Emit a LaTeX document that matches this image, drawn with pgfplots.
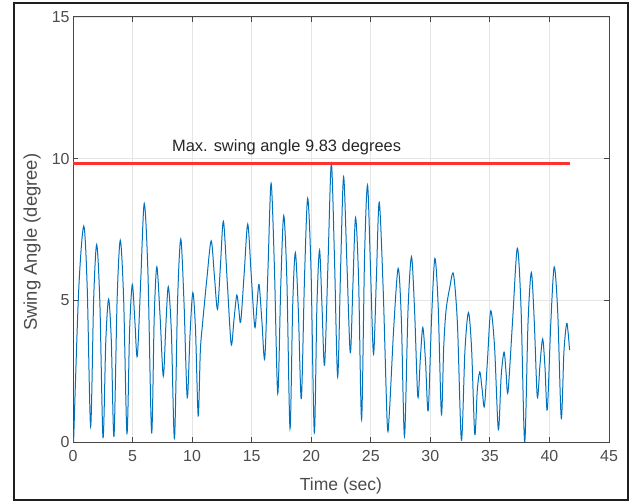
\documentclass[border=0pt]{standalone}
\usepackage{pgfplots}
\pgfplotsset{compat=1.18}
\usepackage{fontspec}
\setmainfont{Liberation Sans}
\definecolor{mblue}{rgb}{0,0.447,0.741}
\definecolor{mred}{RGB}{255,50,50}
\definecolor{axgray}{rgb}{0.15,0.15,0.15}
\definecolor{tickgray}{rgb}{0.3,0.3,0.3}
\definecolor{gridgray}{rgb}{0.9,0.9,0.9}
\begin{document}
\begin{tikzpicture}
\path[use as bounding box] (0bp,0bp) rectangle (637bp,504bp);
\draw[line width=2.4bp, color=black!88] (14bp,4bp) rectangle (628bp,501bp);
\begin{axis}[
  at={(73bp,62bp)}, anchor=south west,
  scale only axis, width=536bp, height=425bp,
  xmin=0, xmax=45, ymin=0, ymax=15,
  xtick={0,5,...,45}, ytick={0,5,10,15},
  grid=major, major grid style={color=gridgray, line width=0.8bp},
  axis line style={color=axgray!85, line width=1bp},
  tick style={color=axgray!85, line width=1bp},
  tick align=inside, major tick length=5bp,
  ticklabel style={font=\fontsize{16}{16}\selectfont, color=tickgray},
  xticklabel style={yshift=-5bp},
  /pgf/number format/assume math mode=true,
  xlabel={Time (sec)}, ylabel={Swing Angle (degree)},
  xlabel style={at={(axis description cs:0.5,-0.1035)}, anchor=center, font=\fontsize{17.6}{18}\selectfont, color=tickgray},
  ylabel style={at={(axis description cs:-0.0765,0.47)}, anchor=center, font=\fontsize{18.5}{19}\selectfont, color=tickgray},
  clip=true,
]
\addplot[color=mblue, line width=1bp, smooth] coordinates {
(0.05,0) (0.475,5.33) (0.90,7.62) (1.19,5.50) (1.48,0.55) (1.735,5.04) (1.99,6.97) (2.255,4.92) (2.52,0.15) (2.755,3.57) (2.99,5.04) (3.215,3.59) (3.44,0.20) (3.705,5.04) (3.97,7.12) (4.25,5.07) (4.53,0.30) (4.755,3.98) (4.98,5.56) (5.19,4.30) (5.40,3.03) (5.69,5.73) (5.98,8.42) (6.29,5.99) (6.60,0.32) (6.82,4.42) (7.04,6.18) (7.31,4.44) (7.58,2.32) (7.79,4.06) (8.00,5.48) (8.26,3.87) (8.52,0.12) (8.785,5.05) (9.05,7.16) (9.32,4.92) (9.59,1.57) (9.825,3.79) (10.06,5.27) (10.285,3.97) (10.51,0.92) (10.69,3.21) (10.87,4.15) (11.235,5.75) (11.60,7.10) (11.865,5.90) (12.13,4.69) (12.38,6.24) (12.63,7.79) (12.955,5.62) (13.28,3.45) (13.515,4.32) (13.75,5.18) (13.915,4.71) (14.08,4.24) (14.375,5.97) (14.67,7.69) (14.965,5.88) (15.26,4.06) (15.44,4.81) (15.62,5.56) (15.86,4.26) (16.10,2.95) (16.365,6.04) (16.63,9.13) (16.91,6.16) (17.19,1.71) (17.44,5.48) (17.69,7.99) (17.955,5.73) (18.22,0.47) (18.445,4.82) (18.67,6.68) (18.92,4.62) (19.17,1.53) (19.435,5.77) (19.70,8.60) (19.98,6.12) (20.26,0.32) (20.48,4.84) (20.70,6.77) (20.91,4.74) (21.12,2.71) (21.405,6.27) (21.69,9.83) (21.955,6.44) (22.22,2.30) (22.47,6.18) (22.72,9.36) (23.0,6.26) (23.28,3.15) (23.50,5.54) (23.72,7.92) (23.975,5.78) (24.23,0.79) (24.48,6.59) (24.73,9.07) (24.98,6.09) (25.23,3.10) (25.47,5.78) (25.71,8.46) (26.045,5.34) (26.38,0.67) (26.55,0.95) (26.93,4.06) (27.30,6.13) (27.565,4.35) (27.83,0.20) (28.125,4.64) (28.42,6.54) (28.685,4.56) (28.95,1.59) (29.16,2.94) (29.37,4.04) (29.595,2.86) (29.82,1.10) (30.10,4.33) (30.38,6.48) (30.655,4.83) (30.93,0.98) (31.125,3.37) (31.32,4.65) (31.63,5.45) (31.94,5.93) (32.275,4.17) (32.61,0.06) (32.905,3.22) (33.20,4.57) (33.465,3.28) (33.73,0.27) (33.94,1.81) (34.15,2.47) (34.345,1.87) (34.54,1.26) (34.805,2.95) (35.07,4.63) (35.39,3.37) (35.71,0.44) (35.95,2.35) (36.19,3.17) (36.355,2.47) (36.52,1.77) (36.91,4.31) (37.30,6.84) (37.61,4.79) (37.92,0.0) (38.20,4.19) (38.48,5.98) (38.73,4.22) (38.98,1.59) (39.205,2.72) (39.43,3.64) (39.625,2.64) (39.82,1.14) (40.11,4.16) (40.40,6.18) (40.695,4.58) (40.99,0.85) (41.215,3.18) (41.44,4.18) (41.57,3.85) (41.69,3.24)
};
\addplot[draw=mred, line width=2.2bp] coordinates {(0,9.83) (41.7,9.83)};
\node[anchor=west, font=\fontsize{16.5}{17}\selectfont, color=axgray, inner sep=0pt] at (axis cs:8.3,10.41) {Max. swing angle 9.83 degrees};
\end{axis}
\end{tikzpicture}
\end{document}
